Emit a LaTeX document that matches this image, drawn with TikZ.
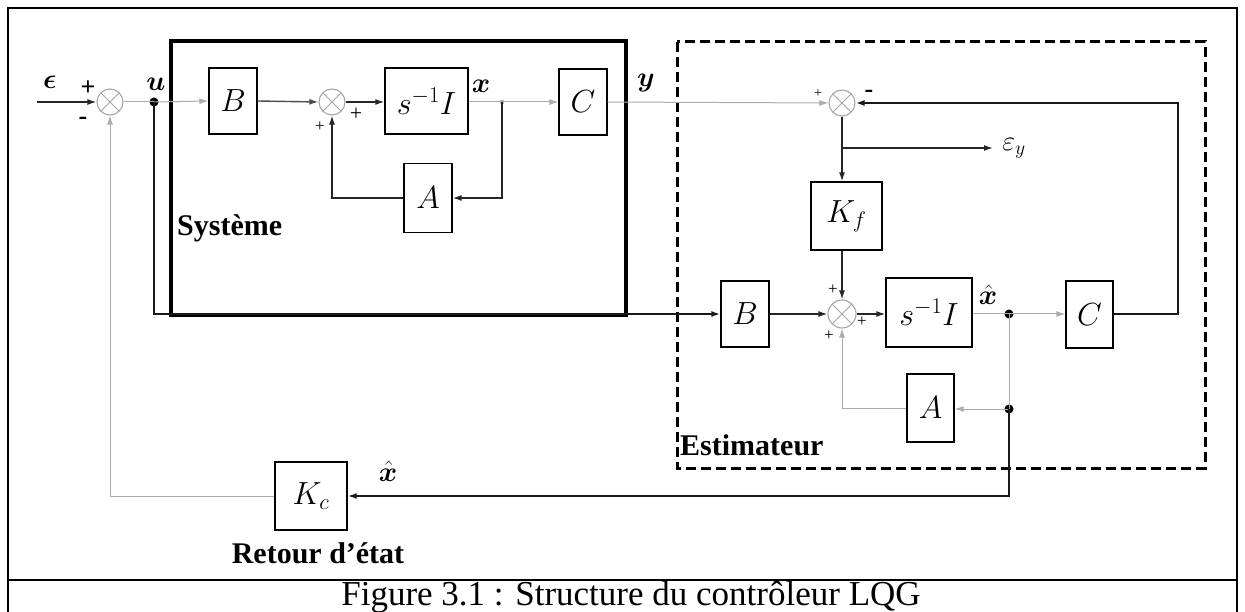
\documentclass[tikz,border=0pt]{standalone}
\usepackage{fix-cm}
\usepackage{amsmath}
\usepackage{bm}
\usepackage{fontspec}
\setmainfont{Liberation Serif}
\usetikzlibrary{arrows.meta,calc}
\begin{document}
\begin{tikzpicture}[x=1pt,y=-1pt,
  blk/.style={draw, line width=1.3pt, inner sep=0pt, font=\fontsize{32}{36}\selectfont},
  sumc/.style={circle, draw=gray!70, line width=1.1pt, minimum size=26pt, inner sep=0pt,
    path picture={\draw[gray!70, line width=1pt]
      (path picture bounding box.north west) -- (path picture bounding box.south east)
      (path picture bounding box.north east) -- (path picture bounding box.south west);}},
  tip/.style={-{Latex[length=9pt,width=6pt]}},
  lw/.style={line width=1pt, draw=gray!65},
  dw/.style={line width=1.4pt, draw=black!85},
  bw/.style={line width=2pt, draw=black!90},
  sig/.style={inner sep=0pt, font=\fontsize{28}{32}\selectfont},
  pm/.style={inner sep=0pt, font=\fontsize{17}{19}\selectfont},
  pmb/.style={inner sep=0pt, font=\fontsize{26}{28}\selectfont\bfseries},
  ttl/.style={inner sep=0pt, font=\fontsize{30}{34}\selectfont\bfseries},
  dot/.style={circle, fill=black, inner sep=0pt, minimum size=9pt}
]
\useasboundingbox (0,0) rectangle (1245,612);
% outer frame
\draw[line width=2.2pt] (8,612) -- (8,8) -- (1237,8) -- (1237,612);
\draw[line width=2.2pt] (8,580) -- (1237,580);
\node[inner sep=0pt, font=\fontsize{35}{38}\selectfont] (cap) at (631,597) {Figure 3.1 : Structure du contrôleur LQG};

% system box
\draw[line width=3.2pt] (171,41) rectangle (626,315);
\node[ttl, anchor=base west] (tsys) at (177,236) {Système};
% estimator box
\draw[line width=3pt, dash pattern=on 10pt off 5pt] (677,42) rectangle (1205,468);
\node[ttl, anchor=base west] (test) at (680,455) {Estimateur};

% blocks
\node[sumc] (s1) at (110,102) {};
\node[dot] (u) at (154,102) {};
\node[blk, minimum width=48pt, minimum height=66pt] (Bs) at (233,101) {$B$};
\node[sumc] (s2) at (332,102) {};
\node[blk, minimum width=83pt, minimum height=66pt] (SIs) at (426.5,101) {$s^{-1}I$};
\node[blk, minimum width=48pt, minimum height=69pt] (As) at (428,198) {$A$};
\node[blk, minimum width=48pt, minimum height=66pt] (Cs) at (583,102) {$C$};
\node[fill=gray!60, inner sep=0pt, minimum size=4pt] (bx) at (502,102) {};
\node[sumc] (s3) at (842,103) {};
\node[blk, minimum width=71pt, minimum height=68pt] (Kf) at (846.5,216) {$K_f$};
\node[sumc, minimum size=28pt] (s4) at (842,314) {};
\node[blk, minimum width=48pt, minimum height=66pt] (Be) at (745,314) {$B$};
\node[blk, minimum width=86pt, minimum height=69pt] (SIe) at (929,312.5) {$s^{-1}I$};
\node[blk, minimum width=47pt, minimum height=67pt] (Ce) at (1089.5,314.5) {$C$};
\node[blk, minimum width=47pt, minimum height=68pt] (Ae) at (930.5,408) {$A$};
\node[blk, minimum width=72pt, minimum height=68pt] (Kc) at (311,496) {$K_c$};
\node[dot] (d1) at (1009,314) {};
\node[dot] (d2) at (1009,409) {};
\coordinate (ein) at (37,102);
\coordinate (eyout) at (993,148);
\coordinate (br3) at (842,148);

% labels
\node[sig] (le) at (50,82) {$\bm{\epsilon}$};
\node[pmb] (lp1) at (88,88) {+};
\node[pmb] (lm1) at (83,121) {-};
\node[sig] (lu) at (156,84) {$\bm{u}$};
\node[pm] (lp2a) at (320,127) {+};
\node[pm, font=\fontsize{22}{24}\selectfont] (lp2b) at (356,114) {+};
\node[sig] (lx) at (481,86) {$\bm{x}$};
\node[sig] (ly) at (646,83) {$\bm{y}$};
\node[pm, font=\fontsize{14}{16}\selectfont] (lp3) at (818,94) {+};
\node[pmb] (lm3) at (869,94) {-};
\node[sig] (ley) at (1014,148) {$\varepsilon_{y}$};
\node[pm] (lp4a) at (833,290) {+};
\node[pm] (lp4b) at (862,322) {+};
\node[pm] (lp4c) at (829,336) {+};
\node[sig, anchor=base] (lxh1) at (988,305) {$\hat{\bm{x}}$};
\node[sig, anchor=base] (lxh2) at (388,481) {$\hat{\bm{x}}$};
\node[ttl] (tret) at (318,553) {Retour d'état};

% wires
\draw[dw, tip] (ein) -- (s1.west);
\draw[lw] (s1.east) -- (u.center);
\draw[lw, tip] (u.center) -- (Bs.west);
\draw[dw, tip, draw=black!70] (Bs.east) -- (s2.west);
\draw[dw, tip] (s2.east) -- (SIs.west |- s2.east);
\draw[lw, tip] (SIs.east |- bx) -- (Cs.west);
\draw[dw, tip] (bx.center) |- (As.east);
\draw[dw, tip] (As.west) -| (s2.south);
\draw[lw, tip] (Cs.east) -- (s3.west);
\draw[dw, tip] (s3.south) -- (s3.south |- Kf.north);
\draw[dw, tip] (br3) -- (eyout);
\draw[dw, tip] (s3.south |- Kf.south) -- (s4.north);
\draw[bw, tip] (u.center) |- (Be.west);
\draw[dw, tip] (Be.east) -- (s4.west);
\draw[dw, tip] (s4.east) -- (SIe.west |- s4.east);
\draw[lw] (SIe.east |- d1) -- (d1.center);
\draw[lw, tip] (d1.center) -- (Ce.west |- d1);
\draw[lw] (d1.center) -- (d2.center);
\draw[lw, tip] (d2.center) -- (Ae.east |- d2);
\draw[lw, tip] (Ae.west) -| (s4.south);
\draw[bw, tip] (d2.center) |- (Kc.east);
\draw[lw, tip] (Kc.west) -| (s1.south);
\draw[bw, tip] (Ce.east) -- (1178,314.5) |- (s3.east);
\end{tikzpicture}
\end{document}
